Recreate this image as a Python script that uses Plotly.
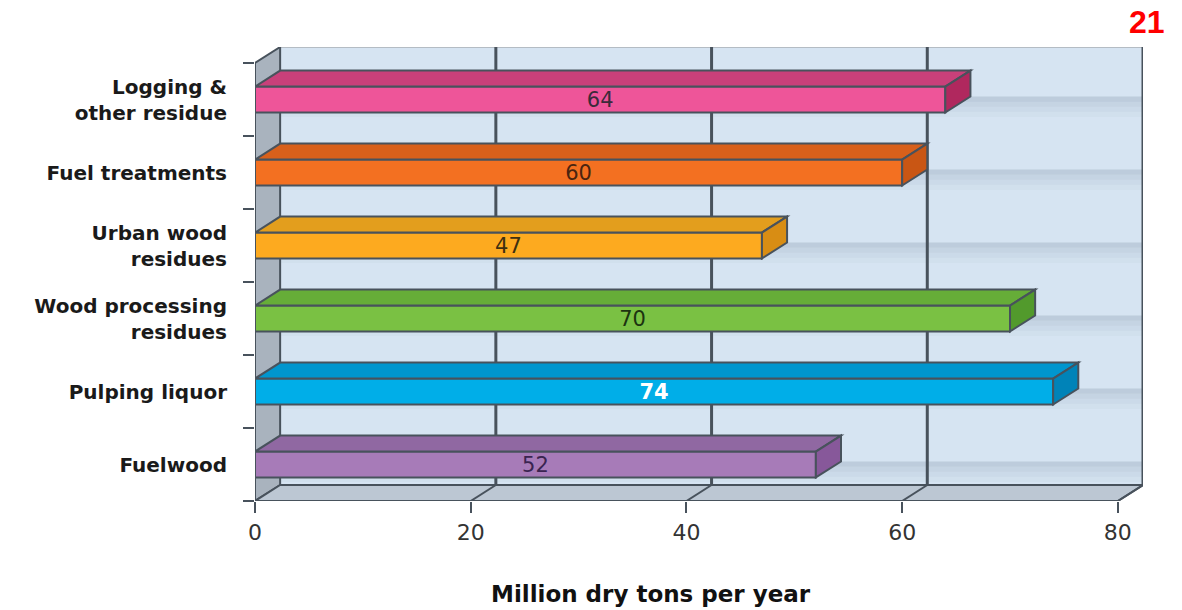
import plotly.graph_objects as go

# ---- data ----
categories = ["Logging &<br>other residue", "Fuel treatments", "Urban wood<br>residues",
              "Wood processing<br>residues", "Pulping liquor", "Fuelwood"]
values = [64, 60, 47, 70, 74, 52]
x_ticks = [0, 20, 40, 60, 80]
x_title = "Million dry tons per year"
page_number = "21"

# ---- styles ----
front_colors = ["#ee5599", "#f37021", "#fdaa1f", "#7ac143", "#00aee8", "#a77bb8"]
top_colors = ["#c9407a", "#d8601b", "#e39e1d", "#66ad38", "#0096ce", "#9068a2"]
side_colors = ["#b0285e", "#c95614", "#d88d14", "#529a2c", "#0083b8", "#87589a"]
label_colors = ["#3b2a3a", "#4a2410", "#3e3010", "#1c3410", "#ffffff", "#3a2450"]
label_bold = [False, False, False, False, True, False]
edge = "#48525c"

n = len(categories)
ypos = [n - 1 - i for i in range(n)]
bar_w = 0.355
xmax = 80
dx = 2.33          # depth offset in x units
dy = 0.219         # depth offset in y units
y0, y1 = -0.5, 5.72

fig = go.Figure()
fig.add_trace(go.Bar(
    x=values, y=ypos, orientation="h", width=bar_w,
    marker=dict(color=front_colors, line=dict(color=edge, width=2)),
    text=[f"<b>{v}</b>" if b else str(v) for v, b in zip(values, label_bold)],
    textposition="inside", insidetextanchor="middle", constraintext="none",
    textfont=dict(family="DejaVu Sans", size=21, color=label_colors),
    hoverinfo="skip", showlegend=False,
))

shapes = []
# back wall
shapes.append(dict(type="rect", xref="x", yref="y", x0=dx, x1=xmax + dx, y0=y0 + dy, y1=y1,
                   fillcolor="#d6e4f2", line=dict(width=0), layer="below"))
# soft shadows beneath each bar on the back wall
for p in ypos:
    yb = p - bar_w / 2 + dy
    for k, a in enumerate([0.22, 0.15, 0.09, 0.04]):
        shapes.append(dict(type="rect", xref="x", yref="y", x0=dx, x1=xmax + dx,
                           y0=yb - 0.07 * (k + 1), y1=yb - 0.07 * k,
                           fillcolor=f"rgba(100,120,140,{a})", line=dict(width=0), layer="below"))
# top edge of back wall
shapes.append(dict(type="line", xref="x", yref="y", x0=dx, x1=xmax + dx, y0=y1, y1=y1,
                   line=dict(color="#b4bcc4", width=2), layer="below"))
# left wall
shapes.append(dict(type="path", xref="x", yref="y",
                   path=f"M 0 {y0} L {dx} {y0+dy} L {dx} {y1} L 0 {y1-dy} Z",
                   fillcolor="#a9b3be", line=dict(color=edge, width=2), layer="below"))
# floor
shapes.append(dict(type="path", xref="x", yref="y",
                   path=f"M 0 {y0} L {xmax} {y0} L {xmax+dx} {y0+dy} L {dx} {y0+dy} Z",
                   fillcolor="#bcc7d3", line=dict(color=edge, width=2), layer="below"))
# back wall gridlines and right edge, floor gridlines
for t in x_ticks[1:]:
    shapes.append(dict(type="line", xref="x", yref="y", x0=t + dx, x1=t + dx, y0=y0 + dy, y1=y1,
                       line=dict(color=edge, width=3), layer="below"))
    shapes.append(dict(type="line", xref="x", yref="y", x0=t, x1=t + dx, y0=y0, y1=y0 + dy,
                       line=dict(color=edge, width=2), layer="below"))

# 3D faces of bars
for p, v, tc, sc in zip(ypos, values, top_colors, side_colors):
    yt = p + bar_w / 2
    yb = p - bar_w / 2
    shapes.append(dict(type="path", xref="x", yref="y",
                       path=f"M 0 {yt} L {v} {yt} L {v+dx} {yt+dy} L {dx} {yt+dy} Z",
                       fillcolor=tc, line=dict(color=edge, width=2), layer="above"))
    shapes.append(dict(type="path", xref="x", yref="y",
                       path=f"M {v} {yb} L {v+dx} {yb+dy} L {v+dx} {yt+dy} L {v} {yt} Z",
                       fillcolor=sc, line=dict(color=edge, width=2), layer="above"))

fig.update_layout(
    width=1182, height=610, autosize=False,
    margin=dict(l=255, r=39, t=47, b=109, autoexpand=False),
    paper_bgcolor="white", plot_bgcolor="white",
    shapes=shapes,
    xaxis=dict(range=[0, xmax + dx], tickvals=x_ticks, showgrid=False, zeroline=False,
               showline=False, ticks="outside", ticklen=11, tickwidth=2, tickcolor=edge,
               ticklabelstandoff=1, automargin=False,
               tickfont=dict(family="DejaVu Sans", size=22, color="#333333")),
    yaxis=dict(range=[y0, y1], tickvals=ypos, ticktext=categories, showgrid=False,
               zeroline=False, showline=False, ticks="", ticklabelstandoff=27, automargin=False,
               tickfont=dict(family="DejaVu Sans", size=20, color="#1a1a1a", weight="bold"),
               minor=dict(tickmode="array", tickvals=[p - 0.5 for p in range(n + 1)],
                          ticks="outside", ticklen=11, tickwidth=2, tickcolor=edge,
                          showgrid=False)),
    annotations=[
        dict(text=f"<b>{page_number}</b>", xref="paper", yref="paper",
             x=1.0, y=1.0, xanchor="center", yanchor="middle",
             xshift=1147 - 1143, yshift=47 - 22, showarrow=False,
             font=dict(family="Liberation Sans", size=32, color="#ff0000")),
        dict(text=f"<b>{x_title}</b>", xref="paper", yref="paper",
             x=(651 - 255) / 888, y=0, xanchor="center", yanchor="middle",
             yshift=-(594 - 501), showarrow=False,
             font=dict(family="DejaVu Sans", size=23, color="#111111")),
    ],
)

fig.write_html("out.html", config={"displayModeBar": False},
               post_script="document.body.style.margin='0';")
